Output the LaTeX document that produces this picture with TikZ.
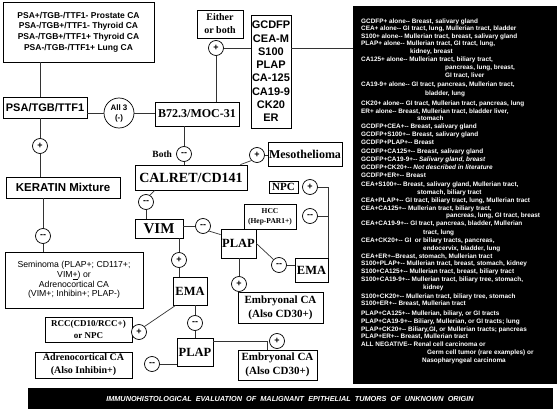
\documentclass[tikz,border=0pt]{standalone}
\usepackage{fontspec}
\setmainfont{Liberation Serif}
\newfontfamily\sansf{Liberation Sans}
\begin{document}
\begin{tikzpicture}[x=1pt,y=-1pt,
  box/.style={draw, line width=0.8pt, fill=white, inner sep=0pt, align=center},
  circ/.style={draw, circle, line width=0.7pt, fill=white, inner sep=0pt, minimum size=15pt, align=center, font=\sansf\bfseries\fontsize{9}{9}\selectfont},
  conn/.style={line width=0.7pt, draw=black!80},
  bt/.style={anchor=base west, inner sep=0pt, text=white, font=\sansf\bfseries\fontsize{6.4}{7}\selectfont}]
\useasboundingbox (0,0) rectangle (560,409);
% black panels
\node[fill=black, minimum width=204pt, minimum height=378pt, inner sep=0pt] (black) at (455,195) {};
\node[fill=black, minimum width=525pt, minimum height=21pt, inner sep=0pt, text=white, font=\sansf\bfseries\itshape\fontsize{7.3}{8}\selectfont] (banner) at (290,398.5) {IMMUNOHISTOLOGICAL\ \ EVALUATION\ \ OF\ \ MALIGNANT\ \ EPITHELIAL\ \ TUMORS\ \ OF\ \ UNKNOWN\ \ ORIGIN};
% text in black panel
\foreach \yy/\xx/\txt [count=\i] in {
21/361/{GCDFP+ alone-{}- Breast, salivary gland},
28.5/361/{CEA+ alone-{}- GI tract, lung, Mullerian tract, bladder},
36/361/{S100+ alone-{}- Mullerian tract, breast, salivary gland},
43.5/361/{PLAP+ alone-{}- Mullerian tract, GI tract, lung,},
51/410/{kidney, breast},
59/361/{CA125+ alone-{}- Mullerian tract, biliary tract,},
67/445/{pancreas, lung, breast,},
75/445/{GI tract, liver},
84/361/{CA19-9+ alone-{}- GI tract, pancreas, Mullerian tract,},
93/425/{bladder, lung},
103/361/{CK20+ alone-{}- GI tract, Mullerian tract, pancreas, lung},
111/361/{ER+ alone-{}- Breast, Mullerian tract, bladder liver,},
118/417/{stomach},
126/361/{GCDFP+CEA+-{}- Breast, salivary gland},
134/361/{GCDFP+S100+-{}- Breast, salivary gland},
142/361/{GCDFP+PLAP+-{}- Breast},
151/361/{GCDFP+CA125+-{}- Breast, salivary gland},
159/361/{GCDFP+CA19-9+-{}- \textit{Salivary gland, breast}},
167/361/{GCDFP+CK20+-{}- \textit{Not described in literature}},
175/361/{GCDFP+ER+-{}- Breast},
184/361/{CEA+S100+-{}- Breast, salivary gland, Mullerian tract,},
192/417/{stomach, biliary tract},
200/361/{CEA+PLAP+-{}- GI tract, biliary tract, lung, Mullerian tract},
208/361/{CEA+CA125+-{}- Mullerian tract, biliary tract,},
215/446/{pancreas, lung, GI tract, breast},
223/361/{CEA+CA19-9+-{}- GI tract, pancreas, bladder, Mullerian},
232/423/{tract, lung},
240/361/{CEA+CK20+-{}- GI\ \ or biliary tracts, pancreas,},
248/423/{endocervix, bladder, lung},
256/361/{CEA+ER+-{}-Breast, stomach, Mullerian tract},
263.5/361/{S100+PLAP+-{}- Mullerian tract, breast, stomach, kidney},
271.5/361/{S100+CA125+-{}- Mullerian tract, breast, biliary tract},
279/361/{S100+CA19-9+-{}- Mullerian tract, biliary tree, stomach,},
287/423/{kidney},
296/361/{S100+CK20+-{}- Mullerian tract, biliary tree, stomach},
303.5/361/{S100+ER+-{}- Breast, Mullerian tract},
313/361/{PLAP+CA125+-{}- Mullerian, biliary, or GI tracts},
321/361/{PLAP+CA19-9+-{}- Biliary, Mullerian, or GI tracts; lung},
329/361/{PLAP+CK20+-{}- Biliary,GI, or Mullerian tracts; pancreas},
336.5/361/{PLAP+ER+-{}- Breast, Mullerian tract},
344/361/{ALL NEGATIVE-{}- Renal cell carcinoma or},
352/427/{Germ cell tumor (rare examples) or},
360/422/{Nasopharyngeal carcinoma}}
  \node[bt] (bt\i) at (\xx,\yy+2.2) {\txt};
% boxes
\node[box, minimum width=151pt, minimum height=60pt, font=\sansf\bfseries\fontsize{8.5}{10.7}\selectfont] (top) at (78.5,32) {PSA+/TGB-/TTF1- Prostate CA\\PSA-/TGB+/TTF1- Thyroid CA\\PSA-/TGB+/TTF1+ Thyroid CA\\PSA-/TGB-/TTF1+ Lung CA};
\node[box, minimum width=84pt, minimum height=21pt, font=\sansf\bfseries\fontsize{11}{13}\selectfont] (psa) at (45,107.5) {PSA/TGB/TTF1};
\node[circ, minimum size=30pt, font=\sansf\bfseries\fontsize{8}{10}\selectfont] (all3) at (119,113) {All 3\\(-)};
\node[box, minimum width=84pt, minimum height=24pt, font=\bfseries\fontsize{12}{14}\selectfont] (b72) at (197,114) {B72.3/MOC-31};
\node[box, minimum width=46pt, minimum height=28pt, font=\bfseries\fontsize{10}{13}\selectfont] (either) at (220,24) {Either\\or both};
\node[circ] (p1) at (216,48) {+};
\node[box, minimum width=40pt, minimum height=113pt, font=\sansf\bfseries\fontsize{11}{13.3}\selectfont] (gcdfp) at (271,71.5) {GCDFP\\CEA-M\\S100\\PLAP\\CA-125\\CA19-9\\CK20\\ER};
\node[circ] (p2) at (40,146) {+};
\node[box, minimum width=114pt, minimum height=21pt, font=\sansf\bfseries\fontsize{11.5}{13}\selectfont] (ker) at (63,187.5) {KERATIN Mixture};
\node[circ] (m1) at (43,236) {-{}-};
\node[box, minimum width=138pt, minimum height=56pt, font=\sansf\fontsize{8.7}{9.8}\selectfont] (sem) at (74,280) {Seminoma (PLAP+; CD117+;\\VIM\underline{+}) or\\Adrenocortical CA\\(VIM+; Inhibin+; PLAP-)};
\node[circ] (mb) at (184,154) {-{}-};
\node[font=\bfseries\fontsize{9.5}{10}\selectfont, anchor=east, inner sep=0pt] (both) at ([xshift=-4pt]mb.west) {Both};
\node[box, minimum width=112pt, minimum height=25pt, font=\bfseries\fontsize{14}{16}\selectfont] (cal) at (191,177.5) {CALRET/CD141};
\node[circ] (pm) at (257,155) {+};
\node[box, minimum width=74pt, minimum height=24pt, font=\bfseries\fontsize{12}{14}\selectfont] (meso) at (305,154) {Mesothelioma};
\node[circ] (mv) at (146,202) {-{}-};
\node[box, minimum width=48pt, minimum height=19pt, font=\bfseries\fontsize{15}{16}\selectfont] (vim) at (159,228.5) {VIM};
\node[circ] (mp) at (203,226) {-{}-};
\node[box, minimum width=35pt, minimum height=29pt, font=\bfseries\fontsize{12.5}{14}\selectfont] (plap) at (238.5,243.5) {PLAP};
\node[box, minimum width=52pt, minimum height=25pt, font=\bfseries\fontsize{7.5}{10}\selectfont] (hcc) at (270,216.5) {HCC\\(Hep-PAR1+)};
\node[box, minimum width=29pt, minimum height=12pt, font=\bfseries\fontsize{11}{12}\selectfont] (npc) at (283.5,187) {NPC};
\node[circ] (pn) at (310,187) {+};
\node[circ] (mh) at (310,216) {-{}-};
\node[box, minimum width=33pt, minimum height=24pt, font=\bfseries\fontsize{12.5}{14}\selectfont] (ema1) at (311.5,270) {EMA};
\node[circ] (me) at (279,265) {-{}-};
\node[circ] (pe) at (239,284) {+};
\node[box, minimum width=85pt, minimum height=31pt, font=\bfseries\fontsize{11}{14}\selectfont] (emb1) at (280.5,307.5) {Embryonal CA\\(Also CD30+)};
\node[circ] (pv) at (179,260) {+};
\node[box, minimum width=34pt, minimum height=28pt, font=\bfseries\fontsize{12.5}{14}\selectfont] (ema2) at (190,291) {EMA};
\node[box, minimum width=87pt, minimum height=25pt, font=\bfseries\fontsize{9}{12}\selectfont] (rcc) at (88.5,329.5) {RCC(CD10/RCC+)\\or NPC};
\node[circ] (pr) at (139,332) {+};
\node[circ] (me2) at (195,323) {-{}-};
\node[box, minimum width=36pt, minimum height=28pt, font=\bfseries\fontsize{12.5}{14}\selectfont] (plap2) at (195,352) {PLAP};
\node[box, minimum width=97pt, minimum height=26pt, font=\bfseries\fontsize{10}{13}\selectfont] (adr) at (83.5,365) {Adrenocortical CA\\(Also Inhibin+)};
\node[circ] (ma) at (152,364) {-{}-};
\node[box, minimum width=79pt, minimum height=30pt, font=\bfseries\fontsize{11}{14}\selectfont] (emb2) at (277.5,365) {Embryonal CA\\(Also CD30+)};
\node[circ] (pe2) at (277,341) {+};
\coordinate (c2) at (267,341);
% connectors
\draw[conn] (top.south -| p2) -- (p2 |- psa.north);
\draw[conn] (psa.east |- all3) -- (all3.west);
\draw[conn] (all3.east) -- (all3 -| b72.west);
\draw[conn] (p1.south) -- (p1 |- b72.north);
\draw[conn] (p1.east) -- (p1 -| gcdfp.west);
\draw[conn] (p1 -| gcdfp.east) -- (p1 -| black.west);
\draw[conn] (p2 |- psa.south) -- (p2.north);
\draw[conn] (p2.south) -- (p2 |- ker.north);
\draw[conn] (m1 |- ker.south) -- (m1.north);
\draw[conn] (m1.south) -- (m1 |- sem.north);
\draw[conn] (mb |- b72.south) -- (mb.north);
\draw[conn] (mb.south) -- (mb |- cal.north);
\draw[conn] ([xshift=-7pt]cal.north east) -- (pm.225);
\draw[conn] (pm.east) -- (meso.west |- pm);
\draw[conn] ([xshift=20pt]cal.south west) -- (mv.60);
\draw[conn] (mv.south) -- (mv |- vim.north);
\draw[conn] (vim.east |- mp) -- (mp.west);
\draw[conn] (mp.-40) -- ([yshift=-6pt]plap.north west);
\draw[conn] (plap.east) -- (me.135);
\draw[conn] (me.east) -- (me -| ema1.west);
\draw[conn] (pn.east) -- (pn -| ema1.north east) -- (ema1.north east);
\draw[conn] (mh.east) -- (mh -| ema1.north east);
\draw[conn] (pe |- plap.south) -- (pe.north);
\draw[conn] (pe.south) -- (pe |- emb1.north);
\draw[conn] (pv |- vim.south) -- (pv.north);
\draw[conn] (pv.south) -- (pv |- ema2.north);
\draw[conn] ([xshift=3pt]ema2.south west) -- (pr.45);
\draw[conn] (me2 |- ema2.south) -- (me2.north);
\draw[conn] (me2.south) -- (me2 |- plap2.north);
\draw[conn] (ma.east) -- (ma -| plap2.west);
\draw[conn] (plap2.east |- c2) -- (c2) -- (c2 |- emb2.north);
\end{tikzpicture}
\end{document}
